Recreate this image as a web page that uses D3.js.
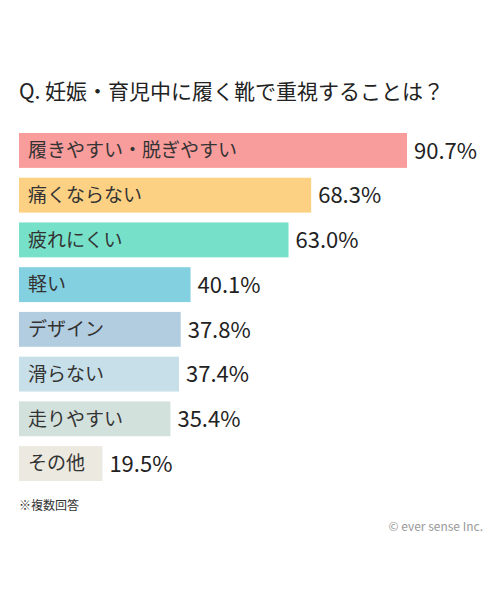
<!DOCTYPE html><html><head><meta charset="utf-8"><script src="https://cdn.jsdelivr.net/npm/d3@7"></script>
<style>body{margin:0;background:#fff}</style></head><body><svg id="c" width="500" height="600"></svg>
<script>
const categories=["履きやすい・脱ぎやすい","痛くならない","疲れにくい","軽い","デザイン","滑らない","走りやすい","その他"];
const values=[90.7,68.3,63.0,40.1,37.8,37.4,35.4,19.5];
const colors=["#f99c9c","#fdd183","#76e0c8","#83d0e0","#b3cde0","#c6dfe8","#d3e1dc","#ece9e1"];
const svg=d3.select("#c");
const font="'Noto Sans CJK JP', sans-serif";
const x=d3.scaleLinear().domain([0,90.7]).range([19,407]);
const y=d3.scaleBand().domain(categories).range([133,481]).paddingInner(0.22).paddingOuter(0);
svg.append("text").attr("x",19).attr("y",99).attr("font-family",font).attr("font-size",21).attr("fill","#222").text("Q. 妊娠・育児中に履く靴で重視することは？");
const g=svg.selectAll("g.b").data(categories).enter().append("g");
g.append("rect").attr("x",x(0)).attr("y",d=>y(d)).attr("height",y.bandwidth()).attr("width",(d,i)=>x(values[i])-x(0)).attr("fill",(d,i)=>colors[i]);
g.append("text").attr("x",28).attr("y",d=>y(d)+y.bandwidth()/2).attr("dy","0.36em").attr("font-family",font).attr("font-size",19).attr("fill","#333").text(d=>d);
g.append("text").attr("x",(d,i)=>x(values[i])+7).attr("y",d=>y(d)+y.bandwidth()/2).attr("dy","0.37em").attr("font-family",font).attr("font-size",22).attr("fill","#222").text((d,i)=>values[i].toFixed(1)+"%");
svg.append("text").attr("x",19).attr("y",510).attr("font-family",font).attr("font-size",12).attr("fill","#333").text("※複数回答");
svg.append("text").attr("x",483).attr("y",531).attr("text-anchor","end").attr("font-family",font).attr("font-size",12).attr("fill","#999").text("© ever sense Inc.");
</script></body></html>
